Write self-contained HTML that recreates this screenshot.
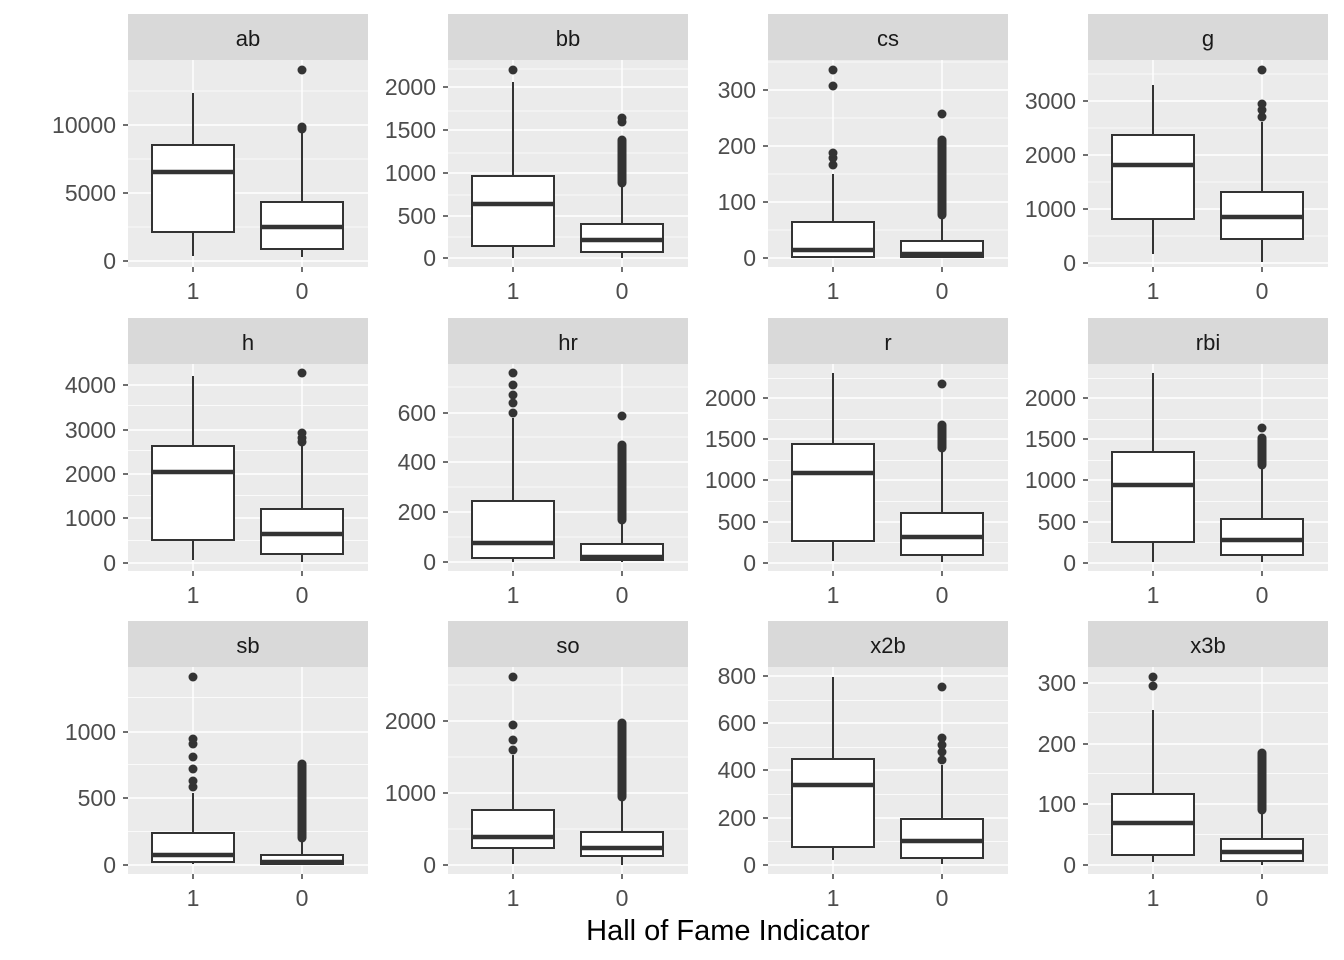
<!DOCTYPE html><html><head><style>body{margin:0;background:#fff}svg{display:block}text{font-family:"Liberation Sans",Arial,sans-serif}</style></head><body>
<svg id="s" width="1344" height="960" xmlns="http://www.w3.org/2000/svg"></svg>
<script>
const P=[
["ab",[[0,261],[5000,193],[10000,125]],[256,232,172,145,93],[],[257,249,227,202,130],[127,129,70],null],
["bb",[[0,258],[500,216],[1000,173],[1500,130],[2000,87]],[258,246,204,176,82],[70],[258,252,240,224,183],[122,118],[183,140]],
["cs",[[0,258],[100,202],[200,146],[300,90]],[258,257,250,222,174],[165,158,153,86,70],[258,257,254,241,217],[114],[215,140]],
["g",[[0,263],[1000,209],[2000,155],[3000,101]],[254,219,165,135,85],[],[262,239,217,192,122],[117,110,104,70],null],
["h",[[0,563],[1000,518],[2000,474],[3000,430],[4000,385]],[560,540,472,446,376],[],[562,554,534,509,445],[442,438,433,373],null],
["hr",[[0,562],[200,512],[400,462],[600,413]],[562,558,543,501,418],[413,403,395,385,373],[562,560,557,544,522],[416],[520,445]],
["r",[[0,563],[500,522],[1000,480],[1500,439],[2000,398]],[561,541,473,444,373],[],[562,555,537,513,452],[384],[448,425]],
["rbi",[[0,563],[500,522],[1000,480],[1500,439],[2000,398]],[562,542,485,452,373],[],[562,555,540,519,468],[428],[465,438]],
["sb",[[0,865],[500,798],[1000,732]],[864,862,855,833,793],[787,781,769,757,744,739,677],[865,864,862,855,840],[],[838,764]],
["so",[[0,865],[1000,793],[2000,721]],[864,848,837,810,755],[750,740,725,677],[865,856,848,832,800],[],[797,723]],
["x2b",[[0,865],[200,818],[400,770],[600,723],[800,676]],[860,847,785,759,677],[],[864,858,841,819,765],[760,752,745,738,687],null],
["x3b",[[0,865],[100,804],[200,744],[300,683]],[862,855,823,794,710],[686,677],[865,861,852,839,812],[],[810,753]]];
const rows=[14,318,621];let h='';
P.forEach((p,i)=>{const c=i%4,r=Math.floor(i/4);const x0=128+c*320,x1=x0+240,st=rows[r],py=st+46,pb=py+207;
h+=`<rect x="${x0}" y="${st}" width="240" height="46" fill="#d9d9d9"/><text x="${x0+120}" y="${st+32}" font-size="22" text-anchor="middle" fill="#1a1a1a">${p[0]}</text>`;
h+=`<rect x="${x0}" y="${py}" width="240" height="207" fill="#ebebeb"/>`;
const t=p[1],d=t[1][1]-t[0][1];
for(let k=-1;k<t.length+1;k++){const y=t[0][1]+(k+0.5)*d;if(y>py&&y<pb)h+=`<line x1="${x0}" x2="${x1}" y1="${y}" y2="${y}" stroke="#fff" stroke-width="0.7"/>`;}
t.forEach(([v,y])=>{h+=`<line x1="${x0}" x2="${x1}" y1="${y}" y2="${y}" stroke="#fff" stroke-width="1.4"/><line x1="${x0-5}" x2="${x0}" y1="${y}" y2="${y}" stroke="#333" stroke-width="1.4"/><text x="${x0-12}" y="${y+8}" font-size="23" text-anchor="end" fill="#4d4d4d">${v}</text>`;});
[[65,p[2],p[3],null],[174,p[4],p[5],p[6]]].forEach(([dx,b,o,dn],j)=>{const cx=x0+dx;
h+=`<line x1="${cx}" x2="${cx}" y1="${py}" y2="${pb}" stroke="#fff" stroke-width="1.4"/>`;
h+=`<line x1="${cx}" x2="${cx}" y1="${b[0]}" y2="${b[4]}" stroke="#333" stroke-width="2"/>`;
h+=`<rect x="${cx-41}" y="${b[3]}" width="82" height="${b[1]-b[3]}" fill="#fff" stroke="#333" stroke-width="2"/>`;
h+=`<line x1="${cx-41}" x2="${cx+41}" y1="${b[2]}" y2="${b[2]}" stroke="#333" stroke-width="4.5"/>`;
if(dn)h+=`<line x1="${cx}" x2="${cx}" y1="${dn[0]}" y2="${dn[1]}" stroke="#333" stroke-width="9" stroke-linecap="round"/>`;
o.forEach(y=>h+=`<circle cx="${cx}" cy="${y}" r="4.5" fill="#333"/>`);
h+=`<line x1="${cx}" x2="${cx}" y1="${pb}" y2="${pb+5}" stroke="#333" stroke-width="1.4"/><text x="${cx}" y="${pb+32}" font-size="23" text-anchor="middle" fill="#4d4d4d">${j?0:1}</text>`;});
});
h+=`<text x="728" y="940" font-size="29" text-anchor="middle" fill="#000">Hall of Fame Indicator</text>`;
document.getElementById('s').innerHTML=h;
</script></body></html>
